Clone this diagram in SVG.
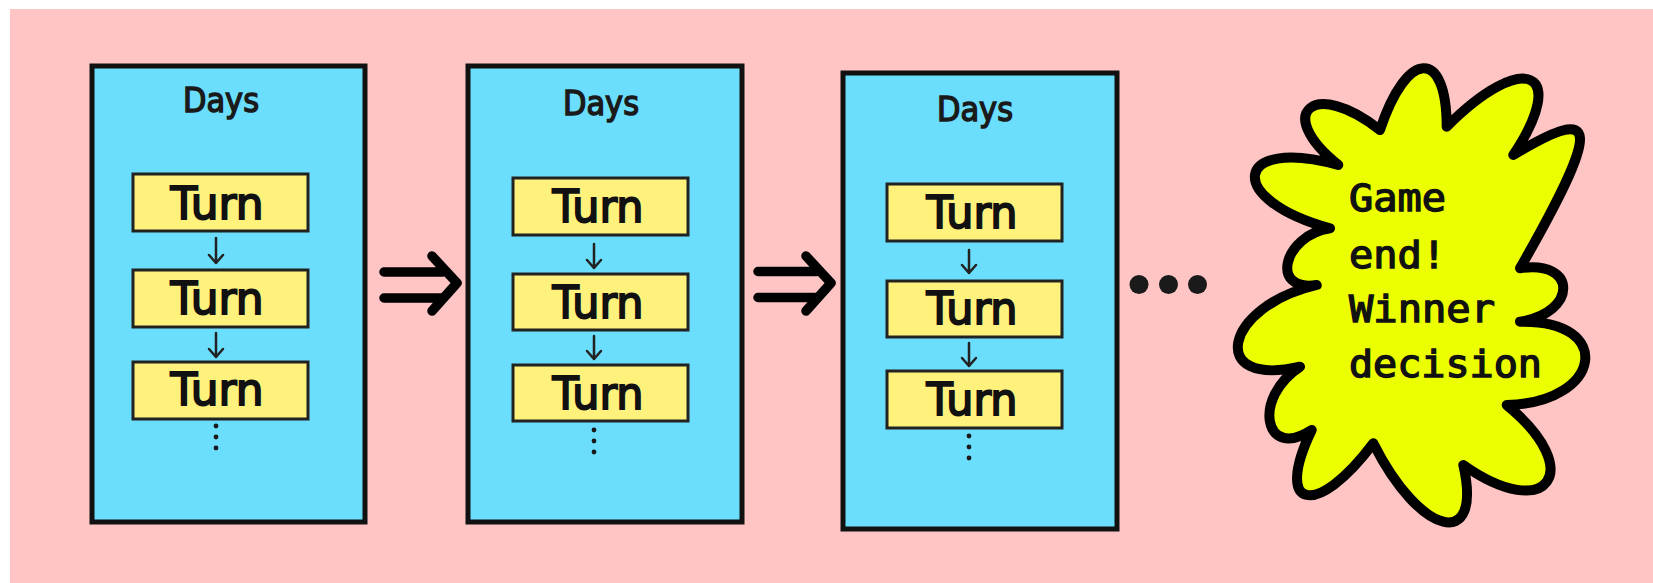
<svg xmlns="http://www.w3.org/2000/svg" width="1653" height="583" viewBox="0 0 1653 583">
  <defs>
    <style>
      .day { fill: #6adefc; stroke: #111; stroke-width: 5; }
      .turn { fill: #fff27c; stroke: #222; stroke-width: 3; }
      .day-label { font-family: "DejaVu Sans", "Liberation Sans", sans-serif; font-size: 33px; fill: #1a1a1a; stroke: #1a1a1a; stroke-width: 1.5; text-anchor: middle; }
      .turn-label { font-family: "DejaVu Sans", "Liberation Sans", sans-serif; font-size: 45px; fill: #111; stroke: #111; stroke-width: 1.9; text-anchor: middle; }
      .step { fill: none; stroke: #222; stroke-width: 2.5; stroke-linecap: round; stroke-linejoin: round; }
      .next { fill: none; stroke: #000; stroke-width: 9.5; stroke-linecap: round; stroke-linejoin: round; }
      .more { fill: #1a1a1a; }
      .burst { fill: #ecff00; stroke: #000; stroke-width: 10; stroke-linejoin: round; }
      .burst-label { font-family: "DejaVu Sans Mono", "Liberation Mono", monospace; font-size: 38px; fill: #111; stroke: #111; stroke-width: 1.4; }
    </style>
  </defs>

  <!-- backdrop -->
  <rect x="0" y="0" width="1653" height="583" fill="#ffffff"/>
  <rect x="10" y="9" width="1643" height="574" fill="#ffc5c5"/>

  <!-- day 1 -->
  <g id="day1">
    <rect class="day" x="92" y="66" width="273" height="456"/>
    <text class="day-label" x="221" y="112" textLength="76" lengthAdjust="spacingAndGlyphs">Days</text>
    <rect class="turn" x="133" y="174" width="175" height="57"/>
    <text class="turn-label" x="217" y="218.5" textLength="93" lengthAdjust="spacingAndGlyphs">Turn</text>
    <rect class="turn" x="133" y="270" width="175" height="57"/>
    <text class="turn-label" x="217" y="314" textLength="93" lengthAdjust="spacingAndGlyphs">Turn</text>
    <rect class="turn" x="133" y="362" width="175" height="57"/>
    <text class="turn-label" x="217" y="405" textLength="93" lengthAdjust="spacingAndGlyphs">Turn</text>
    <circle class="more" cx="216" cy="426" r="2.4"/>
    <circle class="more" cx="216" cy="437" r="2.4"/>
    <circle class="more" cx="216" cy="448" r="2.4"/>
  </g>

  <!-- day 2 -->
  <g id="day2">
    <rect class="day" x="468" y="66" width="274" height="456"/>
    <text class="day-label" x="601" y="115" textLength="76" lengthAdjust="spacingAndGlyphs">Days</text>
    <rect class="turn" x="513" y="178" width="175" height="57"/>
    <text class="turn-label" x="598" y="222" textLength="91" lengthAdjust="spacingAndGlyphs">Turn</text>
    <rect class="turn" x="513" y="274" width="175" height="56"/>
    <text class="turn-label" x="598" y="317.5" textLength="91" lengthAdjust="spacingAndGlyphs">Turn</text>
    <rect class="turn" x="513" y="365" width="175" height="56"/>
    <text class="turn-label" x="598" y="408.5" textLength="91" lengthAdjust="spacingAndGlyphs">Turn</text>
    <circle class="more" cx="594" cy="430" r="2.4"/>
    <circle class="more" cx="594" cy="441" r="2.4"/>
    <circle class="more" cx="594" cy="452" r="2.4"/>
  </g>

  <!-- day 3 -->
  <g id="day3">
    <rect class="day" x="843" y="73" width="274" height="456"/>
    <text class="day-label" x="975" y="121" textLength="76" lengthAdjust="spacingAndGlyphs">Days</text>
    <rect class="turn" x="887" y="184" width="175" height="57"/>
    <text class="turn-label" x="972" y="227.5" textLength="91" lengthAdjust="spacingAndGlyphs">Turn</text>
    <rect class="turn" x="887" y="281" width="175" height="56"/>
    <text class="turn-label" x="972" y="323.5" textLength="91" lengthAdjust="spacingAndGlyphs">Turn</text>
    <rect class="turn" x="887" y="371" width="175" height="57"/>
    <text class="turn-label" x="972" y="414.5" textLength="91" lengthAdjust="spacingAndGlyphs">Turn</text>
    <circle class="more" cx="969" cy="436" r="2.4"/>
    <circle class="more" cx="969" cy="447" r="2.4"/>
    <circle class="more" cx="969" cy="458" r="2.4"/>
  </g>

  <!-- connectors: turn-to-turn steps and day-to-day transitions -->
  <g id="connectors">
    <path class="step" d="M216,238 V263 M209,255 L216,263 L223,255"/>
    <path class="step" d="M216,333 V357 M209,349 L216,357 L223,349"/>
    <path class="step" d="M594,244 V268 M587,260 L594,268 L601,260"/>
    <path class="step" d="M594,336 V359 M587,351 L594,359 L601,351"/>
    <path class="step" d="M969,250 V273 M962,265 L969,273 L976,265"/>
    <path class="step" d="M969,343 V366 M962,358 L969,366 L976,358"/>

    <path class="next" d="M384,272 H443 M384,298 H441 M432,256 L457,283 L432,311"/>
    <path class="next" d="M758,271.5 H817 M758,297.5 H815 M806,256 L831,283 L806,311"/>
  </g>

  <!-- trailing ellipsis -->
  <g id="ellipsis">
    <circle class="more" cx="1139" cy="284.5" r="9.5"/>
    <circle class="more" cx="1168.5" cy="284.5" r="9.5"/>
    <circle class="more" cx="1197.5" cy="284.5" r="9.5"/>
  </g>

  <!-- final burst -->
  <g id="game-end">
    <path class="burst" d="M1338.3,165
      C1232.8,136.1 1224.4,199.5 1330,228.3
      C1282.9,235.4 1269.5,292.2 1316.7,285
      C1223.4,306.5 1206.6,388.3 1300,366.7
      C1252.1,397.8 1263.9,461.2 1311.7,430
      C1273.2,509.7 1316.4,519.1 1373.3,443.3
      C1420.1,536.6 1483.1,551.8 1463.3,465
      C1547.8,524.3 1586.8,470.3 1506.7,405
      C1602.2,402.8 1615.5,319.5 1520,321.7
      C1577.7,312.8 1577.7,259.4 1520,268.3
      C1601.8,125.2 1600.4,102.6 1513.3,155
      C1570,69.6 1523.4,49.8 1446.7,126.7
      C1446.6,47.3 1406.6,49.3 1380,130
      C1314.5,77.7 1272.7,112.7 1338.3,165 Z"/>
    <text class="burst-label" x="1349" y="211" textLength="97" lengthAdjust="spacingAndGlyphs">Game</text>
    <text class="burst-label" x="1349" y="268" textLength="97" lengthAdjust="spacingAndGlyphs">end!</text>
    <text class="burst-label" x="1349" y="322" textLength="146" lengthAdjust="spacingAndGlyphs">Winner</text>
    <text class="burst-label" x="1349" y="377" textLength="193" lengthAdjust="spacingAndGlyphs">decision</text>
  </g>
</svg>
